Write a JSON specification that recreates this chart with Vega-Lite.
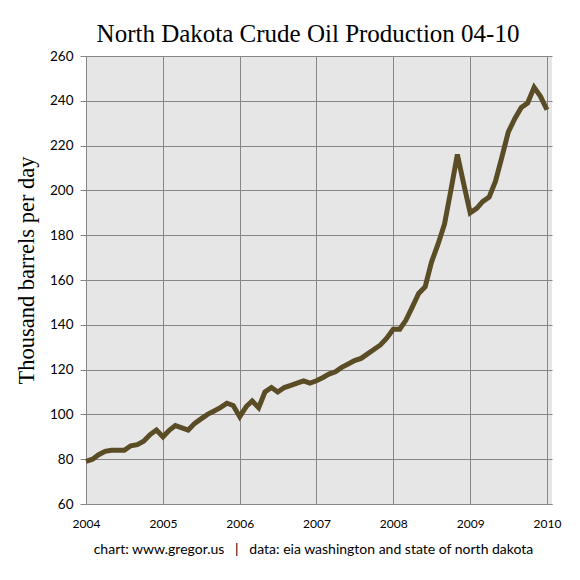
{
  "$schema": "https://vega.github.io/schema/vega-lite/v6.json",
  "width": 466,
  "height": 448,
  "autosize": {"type": "none"},
  "padding": {"left": 86, "top": 56, "right": 28, "bottom": 76},
  "background": "white",
  "config": {
    "view": {"stroke": null, "fill": "#e6e6e6"},
    "axis": {
      "domainColor": "#868686",
      "gridColor": "#868686",
      "gridOpacity": 1,
      "tickColor": "#868686",
      "labelFont": "Lato",
      "labelFontSize": 12,
      "labelColor": "black"
    }
  },
  "title": {
    "text": "North Dakota Crude Oil Production 04-10",
    "font": "Liberation Serif",
    "fontSize": 25,
    "fontWeight": "normal",
    "color": "black",
    "anchor": "middle",
    "frame": "group",
    "dx": -11,
    "dy": 31,
    "baseline": "alphabetic",
    "offset": 13
  },
  "data": {
    "values": [
      {"month": "2004-01-01", "kbd": 79},
      {"month": "2004-02-01", "kbd": 80},
      {"month": "2004-03-01", "kbd": 82},
      {"month": "2004-04-01", "kbd": 83.5},
      {"month": "2004-05-01", "kbd": 84},
      {"month": "2004-06-01", "kbd": 84},
      {"month": "2004-07-01", "kbd": 84},
      {"month": "2004-08-01", "kbd": 86},
      {"month": "2004-09-01", "kbd": 86.5},
      {"month": "2004-10-01", "kbd": 88},
      {"month": "2004-11-01", "kbd": 91},
      {"month": "2004-12-01", "kbd": 93},
      {"month": "2005-01-01", "kbd": 90},
      {"month": "2005-02-01", "kbd": 93},
      {"month": "2005-03-01", "kbd": 95},
      {"month": "2005-04-01", "kbd": 94},
      {"month": "2005-05-01", "kbd": 93},
      {"month": "2005-06-01", "kbd": 96},
      {"month": "2005-07-01", "kbd": 98},
      {"month": "2005-08-01", "kbd": 100},
      {"month": "2005-09-01", "kbd": 101.5},
      {"month": "2005-10-01", "kbd": 103},
      {"month": "2005-11-01", "kbd": 105},
      {"month": "2005-12-01", "kbd": 104},
      {"month": "2006-01-01", "kbd": 99},
      {"month": "2006-02-01", "kbd": 103.5},
      {"month": "2006-03-01", "kbd": 106},
      {"month": "2006-04-01", "kbd": 103},
      {"month": "2006-05-01", "kbd": 110},
      {"month": "2006-06-01", "kbd": 112},
      {"month": "2006-07-01", "kbd": 110},
      {"month": "2006-08-01", "kbd": 112},
      {"month": "2006-09-01", "kbd": 113},
      {"month": "2006-10-01", "kbd": 114},
      {"month": "2006-11-01", "kbd": 115},
      {"month": "2006-12-01", "kbd": 114},
      {"month": "2007-01-01", "kbd": 115},
      {"month": "2007-02-01", "kbd": 116.5},
      {"month": "2007-03-01", "kbd": 118},
      {"month": "2007-04-01", "kbd": 119},
      {"month": "2007-05-01", "kbd": 121},
      {"month": "2007-06-01", "kbd": 122.5},
      {"month": "2007-07-01", "kbd": 124},
      {"month": "2007-08-01", "kbd": 125},
      {"month": "2007-09-01", "kbd": 127},
      {"month": "2007-10-01", "kbd": 129},
      {"month": "2007-11-01", "kbd": 131},
      {"month": "2007-12-01", "kbd": 134},
      {"month": "2008-01-01", "kbd": 138},
      {"month": "2008-02-01", "kbd": 138},
      {"month": "2008-03-01", "kbd": 142},
      {"month": "2008-04-01", "kbd": 148},
      {"month": "2008-05-01", "kbd": 154},
      {"month": "2008-06-01", "kbd": 157},
      {"month": "2008-07-01", "kbd": 168},
      {"month": "2008-08-01", "kbd": 176},
      {"month": "2008-09-01", "kbd": 185},
      {"month": "2008-10-01", "kbd": 200},
      {"month": "2008-11-01", "kbd": 216},
      {"month": "2008-12-01", "kbd": 203},
      {"month": "2009-01-01", "kbd": 190},
      {"month": "2009-02-01", "kbd": 192},
      {"month": "2009-03-01", "kbd": 195},
      {"month": "2009-04-01", "kbd": 197},
      {"month": "2009-05-01", "kbd": 204},
      {"month": "2009-06-01", "kbd": 215},
      {"month": "2009-07-01", "kbd": 226},
      {"month": "2009-08-01", "kbd": 232},
      {"month": "2009-09-01", "kbd": 237},
      {"month": "2009-10-01", "kbd": 239},
      {"month": "2009-11-01", "kbd": 246},
      {"month": "2009-12-01", "kbd": 242},
      {"month": "2010-01-01", "kbd": 236}
    ]
  },
  "mark": {"type": "line", "color": "#5a4d26", "strokeWidth": 5, "strokeJoin": "miter"},
  "encoding": {
    "x": {
      "field": "month",
      "type": "temporal",
      "scale": {
        "type": "utc",
        "domain": [
          {"year": 2004, "month": 1, "date": 1, "utc": true},
          {"year": 2010, "month": 1, "date": 25, "utc": true}
        ]
      },
      "axis": {
        "format": "%Y",
        "tickCount": {"interval": "year", "step": 1},
        "ticks": false,
        "labelPadding": 14,
        "labelFlush": false,
        "labelOverlap": false,
        "grid": true,
        "title": "chart: www.gregor.us\u00a0\u00a0\u00a0|\u00a0\u00a0\u00a0data: eia washington and state of north dakota",
        "titleFont": "Lato",
        "titleFontSize": 14,
        "titleFontWeight": "normal",
        "titleColor": "black",
        "titlePadding": 13,
        "titleX": 227,
        "titleAlign": "center"
      }
    },
    "y": {
      "field": "kbd",
      "type": "quantitative",
      "scale": {"domain": [60, 260], "nice": false, "zero": false},
      "axis": {
        "values": [60, 80, 100, 120, 140, 160, 180, 200, 220, 240, 260],
        "tickSize": 6,
        "labelPadding": 7,
        "labelFontSize": 13.5,
        "grid": true,
        "title": "Thousand barrels per day",
        "titleFont": "Liberation Serif",
        "titleFontSize": 22.5,
        "titleFontWeight": "normal",
        "titleColor": "black",
        "titlePadding": 11,
        "titleY": 214
      }
    }
  }
}
